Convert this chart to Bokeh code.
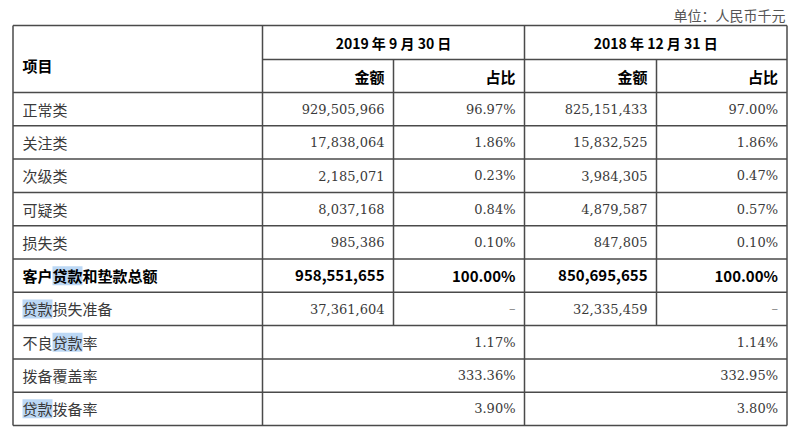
from bokeh.plotting import figure
from bokeh.models import Range1d
from bokeh.core.properties import value
from bokeh.embed import file_html
from bokeh.resources import INLINE

# ---------------- data ----------------
unit_label = "单位：人民币千元"
item_header = "项目"
period_headers = ["2019 年 9 月 30 日", "2018 年 12 月 31 日"]
sub_headers = ["金额", "占比"]

categories = ["正常类", "关注类", "次级类", "可疑类", "损失类"]
amount_2019 = [929505966, 17838064, 2185071, 8037168, 985386]
share_2019 = [96.97, 1.86, 0.23, 0.84, 0.10]
amount_2018 = [825151433, 15832525, 3984305, 4879587, 847805]
share_2018 = [97.00, 1.86, 0.47, 0.57, 0.10]

total_label = "客户贷款和垫款总额"
total_2019 = 958551655
total_2018 = 850695655
total_share = [100.00, 100.00]

allowance_label = "贷款损失准备"
allowance_2019 = 37361604
allowance_2018 = 32335459

ratio_labels = ["不良贷款率", "拨备覆盖率", "贷款拨备率"]
ratio_2019 = [1.17, 333.36, 3.90]
ratio_2018 = [1.14, 332.95, 3.80]

highlight_word = "贷款"

# ---------------- layout ----------------
X = [12.5, 262, 393, 524, 656, 786.5]
Y_TOP, Y_MID, Y_HDR = 25, 59, 92
RH = 33.3
row_labels = categories + [total_label, allowance_label] + ratio_labels
n_rows = len(row_labels)
row_top = [Y_HDR + i * RH for i in range(n_rows + 1)]
centers = [Y_HDR + (i + 0.5) * RH for i in range(n_rows)]
Y_BOT = row_top[-1]
split_end = row_top[len(categories) + 2]

CJK = value("Noto Sans CJK SC")
NUM = value("DejaVu Serif")
TXT = "#3a3a3a"
LINE = "#4a4a4a"
CW = 15  # width of one CJK glyph at 15px
LX = 22
PAD = 9

p = figure(width=794, height=435, output_backend="svg", toolbar_location=None,
           x_range=Range1d(0, 794), y_range=Range1d(435, 0), min_border=0)
p.axis.visible = False
p.grid.visible = False
p.outline_line_color = None
p.background_fill_color = "white"
p.border_fill_color = "white"

# highlight of selected words
hx0, hx1, hy0, hy1 = [], [], [], []
for i, lab in enumerate(row_labels):
    k = lab.find(highlight_word)
    if k >= 0:
        hx0.append(LX + k * CW)
        hx1.append(LX + (k + len(highlight_word)) * CW)
        hy0.append(centers[i] - 9.5)
        hy1.append(centers[i] + 9.5)
p.quad(left=hx0, right=hx1, top=hy0, bottom=hy1, fill_color="#bcd8f5", line_color=None)

# grid lines
sx0, sy0, sx1, sy1 = [], [], [], []
for yy in [Y_TOP, Y_HDR] + row_top[1:]:
    sx0.append(X[0]); sx1.append(X[5]); sy0.append(yy); sy1.append(yy)
sx0.append(X[1]); sx1.append(X[5]); sy0.append(Y_MID); sy1.append(Y_MID)
for xx in [X[0], X[1], X[3], X[5]]:
    sx0.append(xx); sx1.append(xx); sy0.append(Y_TOP); sy1.append(Y_BOT)
for xx in [X[2], X[4]]:
    sx0.append(xx); sx1.append(xx); sy0.append(Y_MID); sy1.append(split_end)
p.segment(x0=sx0, y0=sy0, x1=sx1, y1=sy1, line_color=LINE, line_width=1.5)

# unit label
p.text(x=[785], y=[14], text=[unit_label], text_font=CJK, text_font_size="14px",
       text_color="#555555", text_align="right", text_baseline="middle")

# headers
p.text(x=[LX], y=[65], text=[item_header], text_font=CJK, text_font_size="15px",
       text_font_style="bold", text_color="black", text_baseline="middle")
p.text(x=[(X[1] + X[3]) / 2, (X[3] + X[5]) / 2], y=[42, 42], text=period_headers,
       text_font=CJK, text_font_size="14px", text_font_style="bold",
       text_color="black", text_align="center", text_baseline="middle")
p.text(x=[X[2] - PAD, X[3] - PAD, X[4] - PAD, X[5] - PAD], y=[76] * 4,
       text=sub_headers * 2, text_font=CJK, text_font_size="15px",
       text_font_style="bold", text_color="black", text_align="right",
       text_baseline="middle")

# row labels
ti = len(categories)
norm_idx = [i for i in range(n_rows) if i != ti]
p.text(x=[LX] * len(norm_idx), y=[centers[i] for i in norm_idx],
       text=[row_labels[i] for i in norm_idx], text_font=CJK, text_font_size="15px",
       text_color=TXT, text_baseline="middle")
p.text(x=[LX], y=[centers[ti]], text=[total_label], text_font=CJK,
       text_font_size="15px", text_font_style="bold", text_color="black",
       text_baseline="middle")

def money(v):
    return f"{v:,}"

def pct(v):
    return f"{v:.2f}%"

# category rows + allowance row
cy = centers[:ti] + [centers[ti + 1]]
p.text(x=[X[2] - PAD] * len(cy), y=cy,
       text=[money(v) for v in amount_2019 + [allowance_2019]], text_font=NUM,
       text_font_size="13px", text_color=TXT, text_align="right", text_baseline="middle")
p.text(x=[X[4] - PAD] * len(cy), y=cy,
       text=[money(v) for v in amount_2018 + [allowance_2018]], text_font=NUM,
       text_font_size="13px", text_color=TXT, text_align="right", text_baseline="middle")
p.text(x=[X[3] - PAD] * ti, y=centers[:ti], text=[pct(v) for v in share_2019],
       text_font=NUM, text_font_size="13px", text_color=TXT, text_align="right",
       text_baseline="middle")
p.text(x=[X[5] - PAD] * ti, y=centers[:ti], text=[pct(v) for v in share_2018],
       text_font=NUM, text_font_size="13px", text_color=TXT, text_align="right",
       text_baseline="middle")
p.text(x=[X[3] - PAD, X[5] - PAD], y=[centers[ti + 1]] * 2, text=["–", "–"],
       text_font=NUM, text_font_size="13px", text_color="#888888", text_align="right",
       text_baseline="middle")

# total row
p.text(x=[X[2] - PAD, X[4] - PAD], y=[centers[ti]] * 2,
       text=[money(total_2019), money(total_2018)], text_font=CJK,
       text_font_size="15px", text_font_style="bold", text_color="black",
       text_align="right", text_baseline="middle")
p.text(x=[X[3] - PAD, X[5] - PAD], y=[centers[ti]] * 2,
       text=[pct(v) for v in total_share], text_font=CJK,
       text_font_size="15px", text_font_style="bold", text_color="black",
       text_align="right", text_baseline="middle")

# ratio rows
ry = centers[ti + 2:]
p.text(x=[X[3] - PAD] * len(ry), y=ry, text=[pct(v) for v in ratio_2019],
       text_font=NUM, text_font_size="13px", text_color=TXT, text_align="right",
       text_baseline="middle")
p.text(x=[X[5] - PAD] * len(ry), y=ry, text=[pct(v) for v in ratio_2018],
       text_font=NUM, text_font_size="13px", text_color=TXT, text_align="right",
       text_baseline="middle")

open("out.html", "w").write(file_html(p, INLINE))
